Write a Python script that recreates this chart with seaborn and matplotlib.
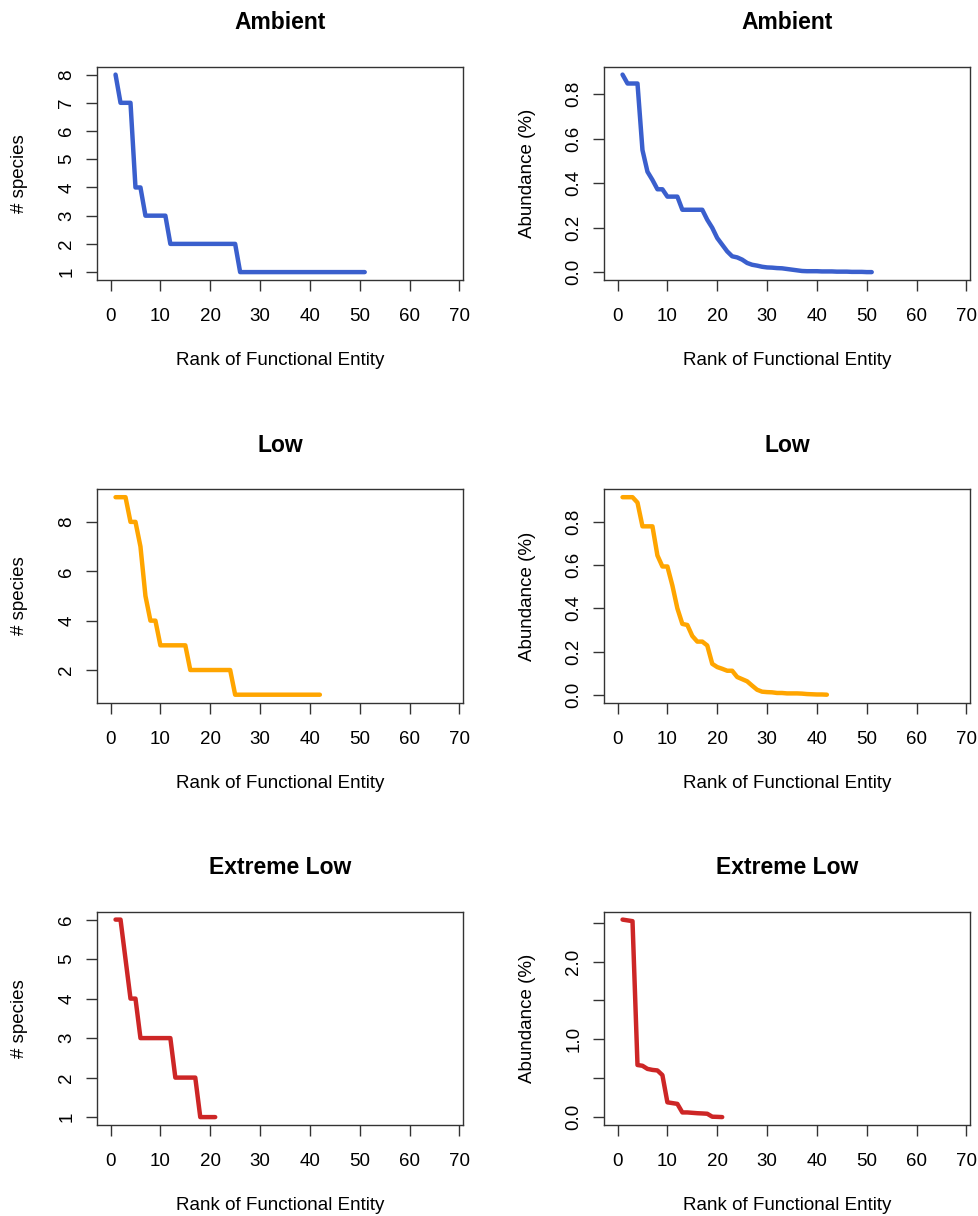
import numpy as np
import pandas as pd
import matplotlib
matplotlib.use("Agg")
import matplotlib.pyplot as plt
import seaborn as sns

# values
ambient_species = [8, 7, 7, 7, 4, 4, 3, 3, 3, 3, 3,
                   2, 2, 2, 2, 2, 2, 2, 2, 2, 2, 2, 2, 2, 2,
                   1, 1, 1, 1, 1, 1, 1, 1, 1, 1, 1, 1, 1,
                   1, 1, 1, 1, 1, 1, 1, 1, 1, 1, 1, 1, 1]
ambient_abund = [0.888, 0.848, 0.848, 0.848, 0.549, 0.452, 0.415, 0.373, 0.373, 0.340,
                 0.340, 0.340, 0.281, 0.281, 0.281, 0.281, 0.281, 0.236, 0.200, 0.154,
                 0.124, 0.094, 0.072, 0.067, 0.057, 0.042, 0.034, 0.030, 0.025, 0.022,
                 0.021, 0.019, 0.018, 0.015, 0.012, 0.009, 0.006, 0.005, 0.005, 0.005,
                 0.004, 0.004, 0.004, 0.003, 0.003, 0.003, 0.002, 0.002, 0.002, 0.001,
                 0.001]

low_species = [9, 9, 9, 8, 8, 7, 5, 4, 4, 3, 3, 3, 3, 3, 3,
               2, 2, 2, 2, 2, 2, 2, 2, 2,
               1, 1, 1, 1, 1, 1, 1, 1, 1, 1, 1, 1, 1, 1, 1, 1, 1, 1]
low_abund = [0.915, 0.915, 0.915, 0.890, 0.780, 0.780, 0.780, 0.645, 0.594, 0.594,
             0.506, 0.400, 0.328, 0.323, 0.272, 0.246, 0.246, 0.228, 0.143, 0.128,
             0.120, 0.111, 0.111, 0.082, 0.072, 0.062, 0.042, 0.023, 0.014, 0.012,
             0.011, 0.008, 0.008, 0.006, 0.006, 0.006, 0.005, 0.003, 0.002, 0.001,
             0.001, 0.000]

extreme_species = [6, 6, 5, 4, 4, 3, 3, 3, 3, 3, 3, 3, 2, 2, 2, 2, 2, 1, 1, 1, 1]
extreme_abund = [2.54, 2.53, 2.52, 0.67, 0.66, 0.62, 0.607, 0.60, 0.54, 0.19,
                 0.18, 0.17, 0.06, 0.06, 0.055, 0.05, 0.047, 0.043, 0.005, 0.003,
                 0.0]

titles = ["Ambient", "Low", "Extreme Low"]
colors = ["#3A5FCD", "#FFA500", "#CD2626"]
x_ticks = [0, 10, 20, 30, 40, 50, 60, 70]
species_ticks = [[1, 2, 3, 4, 5, 6, 7, 8], [2, 4, 6, 8], [1, 2, 3, 4, 5, 6]]
abund_ticks = [[0.0, 0.2, 0.4, 0.6, 0.8], [0.0, 0.2, 0.4, 0.6, 0.8],
               [0.0, 0.5, 1.0, 1.5, 2.0, 2.5]]
abund_labels = [["0.0", "0.2", "0.4", "0.6", "0.8"], ["0.0", "0.2", "0.4", "0.6", "0.8"],
                ["0.0", "", "1.0", "", "2.0", ""]]

sns.set_style("white")
plt.rcParams['font.family'] = ['Liberation Sans', 'DejaVu Sans']
plt.rcParams['text.color'] = 'black'
plt.rcParams['axes.labelcolor'] = 'black'

W, H = 979, 1216
fig = plt.figure(figsize=(W / 100, H / 100), dpi=100)

lefts = [97, 604]
tops = [66.7, 489.3, 911.7]
aw, ah = 366, 213.3
edge = "#333333"
fs = 13.5


def style_axis(ax, values, yticks, ylabels, ylabel, title):
    lo, hi = min(values), max(values)
    ext = 0.04 * (hi - lo)
    ax.set_ylim(lo - ext, hi + ext)
    ax.set_xlim(-2.72, 70.72)
    ax.set_xticks(x_ticks)
    ax.set_xticklabels([str(t) for t in x_ticks])
    ax.set_yticks(yticks)
    ax.set_yticklabels(ylabels, rotation=90, va="center")
    ax.tick_params(axis="both", direction="out", length=8, width=1.0,
                   color=edge, labelsize=fs, labelcolor="black",
                   bottom=True, left=True, top=False, right=False)
    ax.tick_params(axis="x", pad=12.5)
    ax.tick_params(axis="y", pad=7.5)
    for sp in ax.spines.values():
        sp.set_visible(True)
        sp.set_color(edge)
        sp.set_linewidth(1.0)
    ax.set_xlabel("Rank of Functional Entity", fontsize=fs)
    ax.xaxis.set_label_coords(0.5, -0.378)
    ax.xaxis.label.set_va("center")
    ax.set_ylabel(ylabel, fontsize=fs)
    ax.yaxis.set_label_coords(-77 / aw, 0.5)
    ax.yaxis.label.set_va("center")
    ax.set_title(title, fontsize=16.5, fontweight="bold", y=1 + 44 / ah,
                 va="center", pad=0)


species_all = [ambient_species, low_species, extreme_species]
abund_all = [ambient_abund, low_abund, extreme_abund]

for row in range(3):
    for col in range(2):
        ax = fig.add_axes([lefts[col] / W, 1 - (tops[row] + ah) / H, aw / W, ah / H])
        if col == 0:
            vals = species_all[row]
            yt = species_ticks[row]
            yl = [str(v) for v in yt]
            ylab = "# species"
        else:
            vals = abund_all[row]
            yt = abund_ticks[row]
            yl = abund_labels[row]
            ylab = "Abundance (%)"
        df = pd.DataFrame({"rank": np.arange(1, len(vals) + 1), "value": vals})
        sns.lineplot(data=df, x="rank", y="value", ax=ax, color=colors[row],
                     linewidth=3.2, solid_capstyle="round", solid_joinstyle="round")
        style_axis(ax, vals, yt, yl, ylab, titles[row])

fig.savefig("out.png", dpi=100, facecolor="white")
